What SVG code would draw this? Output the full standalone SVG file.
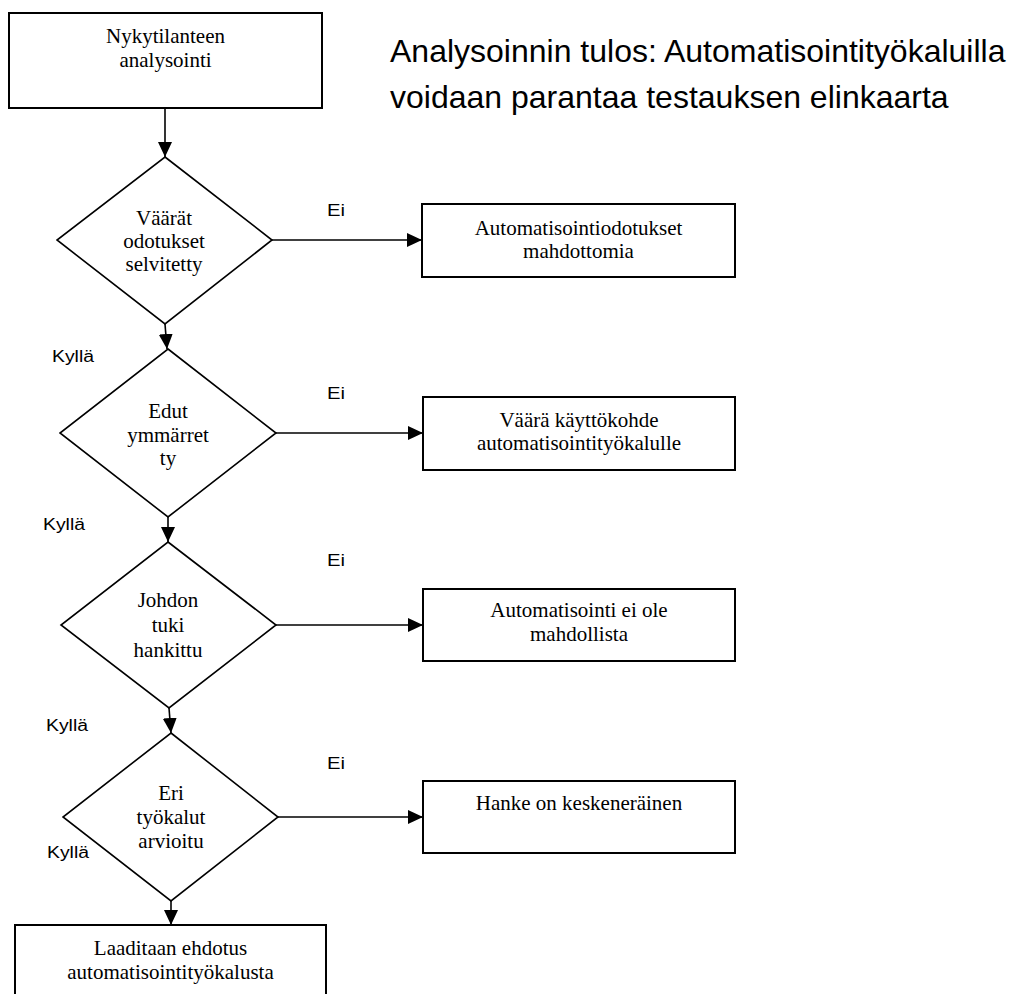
<svg xmlns="http://www.w3.org/2000/svg" width="1015" height="994" viewBox="0 0 1015 994">
  <style>
    .box { fill: #ffffff; stroke: #000000; stroke-width: 2; }
    .dia { fill: #ffffff; stroke: #000000; stroke-width: 1.6; }
    .edge { fill: none; stroke: #000000; stroke-width: 1.6; marker-end: url(#arrow); }
    .lbl { font-family: "Liberation Serif", "Times New Roman", serif; font-size: 21px; fill: #000000; text-anchor: middle; }
    .tag { font-family: "Liberation Sans", Arial, sans-serif; font-size: 16px; fill: #000000; }
    .title { font-family: "Liberation Sans", Arial, sans-serif; font-size: 32px; fill: #000000; }
  </style>
  <defs>
    <marker id="arrow" markerUnits="userSpaceOnUse" markerWidth="15" markerHeight="14" refX="15" refY="7" orient="auto">
      <path d="M0,0 L15,7 L0,14 Z" fill="#000000"/>
    </marker>
  </defs>
  <rect width="1015" height="994" fill="#ffffff"/>

  <!-- heading -->
  <g id="heading">
    <text class="title" x="390" y="62">Analysoinnin tulos: Automatisointityökaluilla</text>
    <text class="title" x="390" y="108">voidaan parantaa testauksen elinkaarta</text>
  </g>

  <!-- connectors -->
  <g id="connectors">
    <line class="edge" x1="165" y1="108" x2="165" y2="157"/>
    <line class="edge" x1="165" y1="324" x2="167" y2="349"/>
    <line class="edge" x1="168" y1="517" x2="168" y2="542"/>
    <line class="edge" x1="169" y1="708" x2="171" y2="733"/>
    <line class="edge" x1="171" y1="901" x2="171" y2="925"/>
    <line class="edge" x1="272" y1="240" x2="422" y2="240"/>
    <line class="edge" x1="276" y1="433" x2="423" y2="433"/>
    <line class="edge" x1="276" y1="625" x2="423" y2="625"/>
    <line class="edge" x1="278" y1="817" x2="423" y2="817"/>
    <text class="tag" x="327" y="216" textLength="18" lengthAdjust="spacingAndGlyphs">Ei</text>
    <text class="tag" x="327" y="399" textLength="18" lengthAdjust="spacingAndGlyphs">Ei</text>
    <text class="tag" x="327" y="566" textLength="18" lengthAdjust="spacingAndGlyphs">Ei</text>
    <text class="tag" x="327" y="769" textLength="18" lengthAdjust="spacingAndGlyphs">Ei</text>
    <text class="tag" x="52" y="362" textLength="42" lengthAdjust="spacingAndGlyphs">Kyllä</text>
    <text class="tag" x="43" y="530" textLength="42" lengthAdjust="spacingAndGlyphs">Kyllä</text>
    <text class="tag" x="46" y="731" textLength="42" lengthAdjust="spacingAndGlyphs">Kyllä</text>
    <text class="tag" x="47" y="858" textLength="42" lengthAdjust="spacingAndGlyphs">Kyllä</text>
  </g>

  <g id="start">
    <rect class="box" x="9" y="13" width="313" height="95"/>
    <text class="lbl" x="165.5" y="43">Nykytilanteen</text>
    <text class="lbl" x="165.5" y="67">analysointi</text>
  </g>

  <g id="q-expectations">
    <polygon class="dia" points="165,157 272,240 165,324 57,240"/>
    <text class="lbl" x="164" y="225">Väärät</text>
    <text class="lbl" x="164" y="248">odotukset</text>
    <text class="lbl" x="164" y="271">selvitetty</text>
  </g>

  <g id="q-benefits">
    <polygon class="dia" points="168,349 276,433 168,517 60,433"/>
    <text class="lbl" x="168" y="418">Edut</text>
    <text class="lbl" x="168" y="442">ymmärret</text>
    <text class="lbl" x="168" y="465">ty</text>
  </g>

  <g id="q-management">
    <polygon class="dia" points="168,542 276,625 169,708 61,625"/>
    <text class="lbl" x="168" y="607">Johdon</text>
    <text class="lbl" x="168" y="632">tuki</text>
    <text class="lbl" x="168" y="657">hankittu</text>
  </g>

  <g id="q-tools">
    <polygon class="dia" points="171,733 278,817 171,901 63,817"/>
    <text class="lbl" x="171" y="800">Eri</text>
    <text class="lbl" x="171" y="824">työkalut</text>
    <text class="lbl" x="171" y="848">arvioitu</text>
  </g>

  <g id="out-impossible">
    <rect class="box" x="422" y="204" width="313" height="73"/>
    <text class="lbl" x="578.5" y="235">Automatisointiodotukset</text>
    <text class="lbl" x="578.5" y="258">mahdottomia</text>
  </g>

  <g id="out-wrong-target">
    <rect class="box" x="423" y="397" width="312" height="73"/>
    <text class="lbl" x="579" y="427">Väärä käyttökohde</text>
    <text class="lbl" x="579" y="450">automatisointityökalulle</text>
  </g>

  <g id="out-not-possible">
    <rect class="box" x="423" y="589" width="312" height="72"/>
    <text class="lbl" x="579" y="617">Automatisointi ei ole</text>
    <text class="lbl" x="579" y="641">mahdollista</text>
  </g>

  <g id="out-unfinished">
    <rect class="box" x="423" y="781" width="312" height="72"/>
    <text class="lbl" x="579" y="810">Hanke on keskeneräinen</text>
  </g>

  <g id="proposal">
    <rect class="box" x="15" y="925" width="311" height="80"/>
    <text class="lbl" x="170.5" y="955">Laaditaan ehdotus</text>
    <text class="lbl" x="170.5" y="979">automatisointityökalusta</text>
  </g>
</svg>
